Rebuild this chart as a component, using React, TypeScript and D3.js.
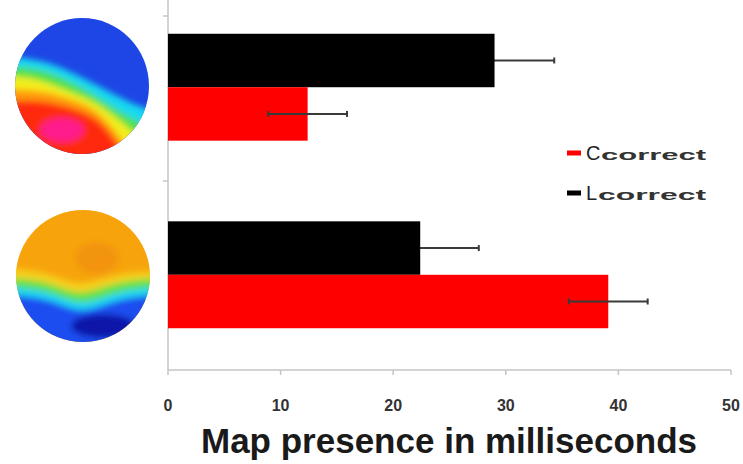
import React from 'react';
import * as d3 from 'd3';

// values
const groups = ['top', 'bottom'];
const seriesNames = ['L', 'C'];
const seriesColors = ['#000000', '#ff0000'];
const lValues = [29.0, 22.4];
const lErrors = [5.3, 5.2];
const cValues = [12.4, 39.1];
const cErrors = [3.5, 3.5];
const xTicks = [0, 10, 20, 30, 40, 50];
const legendLabels = ['C', 'L'];
const legendColors = ['#ff0000', '#000000'];

// scalp map bands: [color, boundary points as offsets from map centre], filled below the boundary
const topMapBase = '#1e46e6';
const topMapBands: [string, [number, number][]][] = [
  ['#19d9f0', [[-75, -30], [-40, -26], [-10, -14], [20, 2], [50, 18], [75, 26]]],
  ['#4fe04a', [[-75, -20], [-40, -17], [-15, -6], [15, 10], [40, 28], [75, 44]]],
  ['#f3ee1c', [[-75, -10], [-45, -8], [-20, 3], [10, 14], [35, 32], [70, 62]]],
  ['#ff9a0c', [[-75, 3], [-45, 4], [-20, 10], [10, 20], [30, 40], [55, 75]]],
  ['#ff2a10', [[-75, 15], [-45, 14], [-15, 20], [12, 30], [30, 48], [48, 80]]]
];
const topMapBlob: [number, number, number, number, string] = [-20, 44, 22, 12, '#ff1a8c'];

const bottomMapBase = '#f7a40c';
const bottomMapBands: [string, [number, number][]][] = [
  ['#f5d01a', [[-75, -8], [-35, -4], [-6, 10], [17, 3], [40, -3], [75, -5]]],
  ['#5fe24a', [[-75, 2], [-35, 5], [-6, 20], [17, 12], [40, 5], [75, 2]]],
  ['#1ad6f2', [[-75, 11], [-35, 14], [-6, 29], [17, 23], [40, 14], [75, 11]]],
  ['#1f4ef0', [[-75, 19], [-35, 22], [-6, 37], [17, 31], [40, 22], [75, 19]]]
];
const bottomMapBlob: [number, number, number, number, string] = [20, 50, 32, 12, '#0a14a8'];
const bottomMapSpot: [number, number, number, number, string] = [14, -18, 22, 16, '#f29410'];

const W = 743;
const H = 464;
const plotLeft = 168;
const plotRight = 731;
const plotTop = 0;
const plotBottom = 370;

const x = d3.scaleLinear().domain([0, 50]).range([plotLeft, plotRight]);
const yGroup = d3.scaleBand().domain(groups).range([plotTop, 362]).paddingInner(0.43).paddingOuter(0.18);
const ySeries = d3.scaleBand().domain(seriesNames).range([0, yGroup.bandwidth()]);

const bandLine = d3.line<[number, number]>().curve(d3.curveBasis);

function ScalpMap(props: { id: string; cx: number; cy: number; rx: number; ry: number; base: string;
  bands: [string, [number, number][]][]; blobs: [number, number, number, number, string][] }) {
  const { id, cx, cy, rx, ry, base, bands, blobs } = props;
  return (
    <g>
      <defs>
        <clipPath id={id + '-clip'}>
          <ellipse cx={cx} cy={cy} rx={rx} ry={ry} />
        </clipPath>
        <filter id={id + '-blur'} x="-20%" y="-20%" width="140%" height="140%">
          <feGaussianBlur stdDeviation="3" />
        </filter>
      </defs>
      <g clipPath={`url(#${id}-clip)`}>
        <rect x={cx - rx - 10} y={cy - ry - 10} width={2 * rx + 20} height={2 * ry + 20} fill={base} />
        <g filter={`url(#${id}-blur)`}>
          {bands.map(([color, pts], i) => {
            const abs = pts.map(([dx, dy]) => [cx + dx, cy + dy] as [number, number]);
            const d = bandLine(abs) + `L${cx + 80},${cy + 90}L${cx - 80},${cy + 90}Z`;
            return <path key={i} d={d} fill={color} />;
          })}
          {blobs.map(([dx, dy, bx, by, color], i) => (
            <ellipse key={i} cx={cx + dx} cy={cy + dy} rx={bx} ry={by} fill={color} />
          ))}
        </g>
      </g>
    </g>
  );
}

type Row = { g: string; s: string; v: number; e: number; color: string };

function ErrorBar({ r }: { r: Row }) {
  const yc = yGroup(r.g)! + ySeries(r.s)! + ySeries.bandwidth() / 2;
  return (
    <g stroke="#3a3a3a" strokeWidth={2}>
      <line x1={x(r.v - r.e)} x2={x(r.v + r.e)} y1={yc} y2={yc} />
      <line x1={x(r.v - r.e)} x2={x(r.v - r.e)} y1={yc - 3} y2={yc + 3} />
      <line x1={x(r.v + r.e)} x2={x(r.v + r.e)} y1={yc - 3} y2={yc + 3} />
    </g>
  );
}

export default function App() {
  const rows: Row[] = groups.map((g, i) => [
    { g, s: 'L', v: lValues[i], e: lErrors[i], color: seriesColors[0] },
    { g, s: 'C', v: cValues[i], e: cErrors[i], color: seriesColors[1] }
  ]).flat();

  const midTick = (yGroup('top')! + yGroup.bandwidth() + yGroup('bottom')!) / 2;

  return (
    <svg width={W} height={H} style={{ position: 'absolute', left: 0, top: 0, background: '#fff' }}
      fontFamily="'Liberation Sans', Arial, sans-serif">
      <ScalpMap id="map1" cx={82} cy={86} rx={67} ry={68} base={topMapBase} bands={topMapBands} blobs={[topMapBlob]} />
      <ScalpMap id="map2" cx={83} cy={276} rx={67} ry={66} base={bottomMapBase} bands={bottomMapBands}
        blobs={[bottomMapSpot, bottomMapBlob]} />

      {/* axes */}
      <line x1={plotLeft} x2={plotLeft} y1={plotTop} y2={plotBottom} stroke="#c4c4c4" strokeWidth={1.5} />
      <line x1={plotLeft} x2={plotRight} y1={plotBottom} y2={plotBottom} stroke="#c4c4c4" strokeWidth={1.5} />
      {[plotTop + 16, midTick].map((yy, i) => (
        <line key={i} x1={plotLeft - 5} x2={plotLeft} y1={yy} y2={yy} stroke="#c4c4c4" strokeWidth={1.5} />
      ))}
      {xTicks.map(t => (
        <g key={t}>
          <line x1={x(t)} x2={x(t)} y1={plotBottom} y2={plotBottom + 5} stroke="#c4c4c4" strokeWidth={1.5} />
          <text x={x(t)} y={plotBottom + 41} textAnchor="middle" fontSize={16} fontWeight="bold" fill="#333">{t}</text>
        </g>
      ))}
      <text x={449} y={453} textAnchor="middle" fontSize={35} fontWeight="bold" fill="#1a1a1a">
        Map presence in milliseconds
      </text>

      {/* black bars hide their own lower whisker, red bars show it */}
      {rows.filter(r => r.s === 'L').map((r, i) => <ErrorBar key={'el' + i} r={r} />)}
      {rows.map((r, i) => {
        const y0 = yGroup(r.g)! + ySeries(r.s)!;
        return (
          <rect key={i} x={x(0)} y={y0} width={x(r.v) - x(0)} height={ySeries.bandwidth()} fill={r.color} />
        );
      })}
      {rows.filter(r => r.s === 'C').map((r, i) => <ErrorBar key={'ec' + i} r={r} />)}

      {/* legend */}
      {legendLabels.map((l, i) => {
        const sub = l === 'C' ? 34 : 31;
        return (
          <g key={l} transform={`translate(567, ${153 + i * 40})`}>
            <rect x={0} y={-2.5} width={14} height={5} fill={legendColors[i]} />
            <text x={19} y={7} fontSize={20} fill="#222">{l}</text>
            <text x={sub} y={7} fontSize={15} fontWeight="bold" fill="#333" textLength={139 - sub}
              lengthAdjust="spacingAndGlyphs">correct</text>
          </g>
        );
      })}
    </svg>
  );
}
